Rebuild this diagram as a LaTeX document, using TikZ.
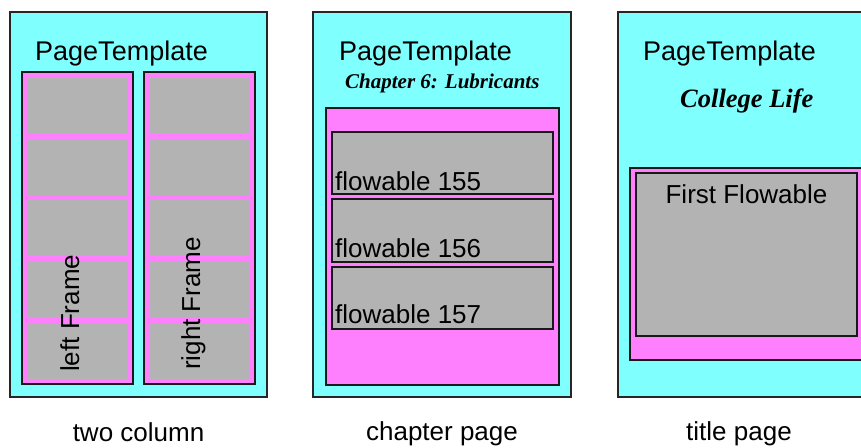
\documentclass[tikz,border=0pt]{standalone}
\usepackage{fontspec}
\setmainfont{Liberation Sans}
\newfontfamily\serifbi{Liberation Serif}
\definecolor{pcyan}{HTML}{80FFFF}
\definecolor{pmag}{HTML}{FF80FF}
\definecolor{pgray}{HTML}{B3B3B3}
\begin{document}
\begin{tikzpicture}[x=1pt,y=-1pt,
  page/.style={draw=black!85,line width=2pt,fill=pcyan},
  frame/.style={draw=black!90,line width=2pt,fill=pmag},
  cell/.style={fill=pgray},
  flow/.style={draw=black!90,line width=2pt,fill=pgray},
  lbl/.style={inner sep=0pt,font=\fontsize{26}{30}\selectfont},
  hdr/.style={inner sep=0pt,font=\fontsize{27}{31}\selectfont},
  ttl/.style={inner sep=0pt,font=\fontsize{21}{25}\selectfont\serifbi\bfseries\itshape},
  big/.style={inner sep=0pt,font=\fontsize{26.5}{30}\selectfont\serifbi\bfseries\itshape}]
\useasboundingbox (0,0) rectangle (861,447);
% ---- panel 1: two column
\draw[page] (10,12) rectangle (267,397);
\draw[frame] (22,72) rectangle (133,384);
\draw[frame] (144,72) rectangle (255,384);
\foreach \a/\b in {77/134,139/196,200/256,261/317,323/379}{
  \fill[cell] (27,\a) rectangle (128,\b);
  \fill[cell] (150,\a) rectangle (249,\b);
}
\node[hdr,anchor=base west] (pt1) at (35,60) {PageTemplate};
\node[lbl,anchor=base west,rotate=90] (lf) at (79,372) {left Frame};
\node[lbl,anchor=base west,rotate=90] (rf) at (200,370) {right Frame};
\node[lbl,anchor=base] (c1) at (138.5,441) {two column};
% ---- panel 2: chapter page
\draw[page] (313,12) rectangle (571,397);
\node[hdr,anchor=base west] (pt2) at (339,60) {PageTemplate};
\node[ttl,anchor=base west] (ch) at (345,88) {Chapter 6: Lubricants};
\draw[frame] (326,108) rectangle (559,385);
\draw[flow] (332,132) rectangle (553,194);
\draw[flow] (332,199) rectangle (553,262);
\draw[flow] (332,267) rectangle (553,329);
\node[lbl,anchor=base west] (f155) at (335,190) {flowable 155};
\node[lbl,anchor=base west] (f156) at (335,257) {flowable 156};
\node[lbl,anchor=base west] (f157) at (335,323) {flowable 157};
\node[lbl,anchor=base] (c2) at (442,440) {chapter page};
% ---- panel 3: title page
\draw[page] (618,12) rectangle (880,397);
\node[hdr,anchor=base west] (pt3) at (643,60) {PageTemplate};
\node[big,anchor=base west] (cl) at (680,107) {College Life};
\draw[frame] (630,168) rectangle (875,360);
\draw[flow] (636,173) rectangle (857,336);
\node[lbl,anchor=base] (ff) at (746.5,203) {First Flowable};
\node[lbl,anchor=base] (c3) at (739,440) {title page};
\end{tikzpicture}
\end{document}
